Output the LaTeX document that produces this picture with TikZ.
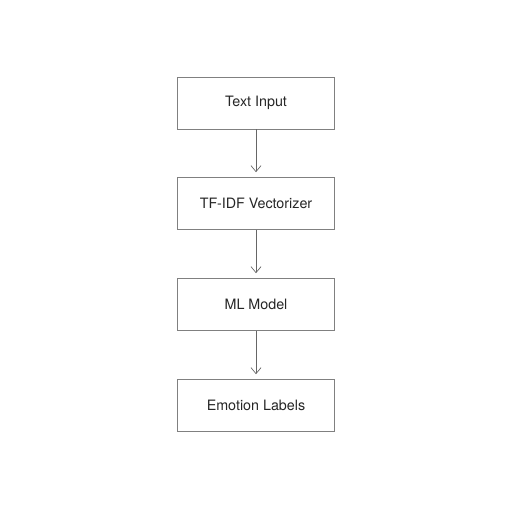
\documentclass[tikz,border=0pt]{standalone}
\usepackage{fontspec}
\setmainfont{TeX Gyre Heros}
\usetikzlibrary{arrows.meta}
\begin{document}
\begin{tikzpicture}[x=1pt,y=1pt,
  stagebox/.style={draw=black!50, line width=0.6pt, fill=white, minimum width=157pt, minimum height=52pt, inner sep=0pt, font=\fontsize{14.3}{16}\selectfont, text=black!85},
  flow/.style={draw=black!60, line width=0.7pt, shorten >=5pt, -{Straight Barb[length=6pt,width=10pt]}}]
\useasboundingbox (0,0) rectangle (512,512);
\fill[white] (0,0) rectangle (512,512);
\node[stagebox] (a) at (256,409) {Text Input};
\node[stagebox] (b) at (256,308.5) {TF-IDF Vectorizer};
\node[stagebox] (c) at (256,207.5) {ML Model};
\node[stagebox] (d) at (256,106.5) {Emotion Labels};
\draw[flow] (a) -- (b);
\draw[flow] (b) -- (c);
\draw[flow] (c) -- (d);
\end{tikzpicture}
\end{document}
